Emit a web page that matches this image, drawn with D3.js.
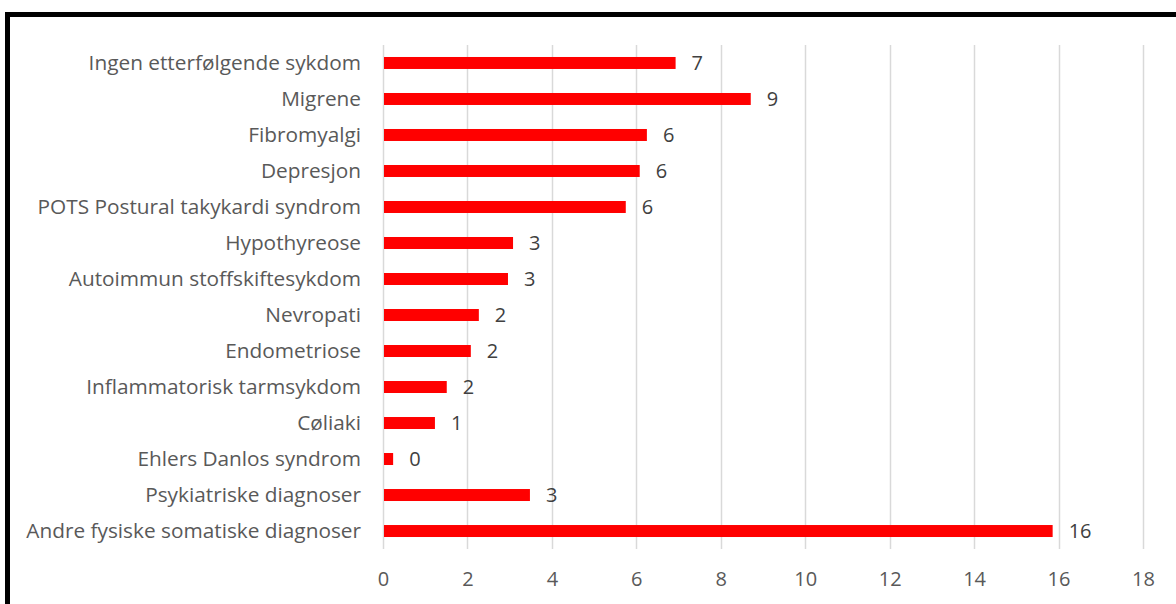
<!DOCTYPE html>
<html>
<head>
<meta charset="utf-8">
<script src="https://cdn.jsdelivr.net/npm/d3@7"></script>
<style>
  html, body { margin: 0; padding: 0; background: #fff; }
  svg { display: block; }
  text { font-family: "Open Sans", "Noto Sans", sans-serif; }
</style>
</head>
<body>
<svg id="chart" width="1176" height="604"></svg>
<script>
// Diagnoses, listed top to bottom
const categories = [
  "Ingen etterfølgende sykdom",
  "Migrene",
  "Fibromyalgi",
  "Depresjon",
  "POTS Postural takykardi syndrom",
  "Hypothyreose",
  "Autoimmun stoffskiftesykdom",
  "Nevropati",
  "Endometriose",
  "Inflammatorisk tarmsykdom",
  "Cøliaki",
  "Ehlers Danlos syndrom",
  "Psykiatriske diagnoser",
  "Andre fysiske somatiske diagnoser"
];
// Values (labels show them rounded to whole numbers)
const values = [6.93, 8.71, 6.25, 6.08, 5.75, 3.08, 2.96, 2.27, 2.08, 1.51, 1.23, 0.24, 3.48, 15.86];
const xTicks = [0, 2, 4, 6, 8, 10, 12, 14, 16, 18];

const svg = d3.select("#chart");
const W = 1176, H = 604;

// Outer frame
svg.append("rect")
  .attr("x", 7.5).attr("y", 14.5)
  .attr("width", W + 20).attr("height", H + 20)
  .attr("fill", "#fff").attr("stroke", "#000").attr("stroke-width", 5);

const margin = { left: 383, right: 33, top: 45, bottom: 55 };
const x = d3.scaleLinear().domain([0, 18]).range([margin.left, W - margin.right]);
const y = d3.scaleBand().domain(categories).range([margin.top, H - margin.bottom])
  .paddingInner(0.667).paddingOuter(0.333);

// Vertical gridlines
svg.append("g").selectAll("line").data(xTicks).join("line")
  .attr("x1", d => Math.round(x(d)) + 0.5).attr("x2", d => Math.round(x(d)) + 0.5)
  .attr("y1", margin.top).attr("y2", H - margin.bottom)
  .attr("stroke", "#d9d9d9").attr("stroke-width", 1.5);

// Bars
svg.append("g").selectAll("rect").data(values).join("rect")
  .attr("x", x(0) + 1)
  .attr("y", (d, i) => y(categories[i]))
  .attr("width", d => x(d) - x(0) - 1)
  .attr("height", y.bandwidth())
  .attr("fill", "#ff0000");

// Value labels
svg.append("g").selectAll("text").data(values).join("text")
  .attr("x", d => x(d) + 16)
  .attr("y", (d, i) => y(categories[i]) + y.bandwidth() / 2)
  .attr("dy", "0.36em")
  .attr("font-size", 20)
  .attr("fill", "#404040")
  .text(d => d3.format(".0f")(d));

// Category axis labels
const yAxis = d3.axisLeft(y).tickSize(0).tickPadding(22);
const gy = svg.append("g").attr("transform", `translate(${x(0)},0)`).call(yAxis);
gy.select(".domain").remove();
gy.selectAll("text").attr("font-size", 20.8).attr("fill", "#595959")
  .style("font-family", '"Open Sans", "Noto Sans", sans-serif');

// Value axis labels
const xAxis = d3.axisBottom(x).tickValues(xTicks).tickSize(0).tickPadding(23).tickFormat(d3.format("d"));
const gx = svg.append("g").attr("transform", `translate(0,${H - margin.bottom})`).call(xAxis);
gx.select(".domain").remove();
gx.selectAll("text").attr("font-size", 20).attr("fill", "#595959")
  .style("font-family", '"Open Sans", "Noto Sans", sans-serif');
</script>
</body>
</html>
